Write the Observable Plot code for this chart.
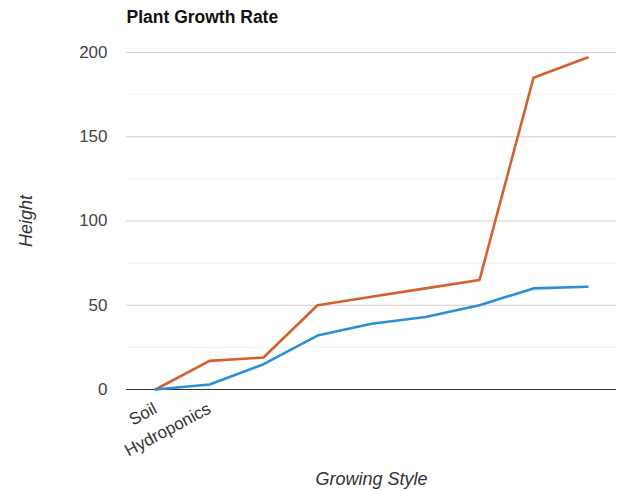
<!DOCTYPE html>
<html>
<head>
<meta charset="utf-8">
<script src="https://cdn.jsdelivr.net/npm/d3@7"></script>
<script src="https://cdn.jsdelivr.net/npm/@observablehq/plot@0.6"></script>
<style>
  html, body { margin: 0; padding: 0; background: #fff; }
  #chart svg { display: block; }
</style>
</head>
<body>
<div id="chart"></div>
<script>
// Growth stages along the x axis and the labels shown under them
const stage = [1, 2, 3, 4, 5, 6, 7, 8, 9];
const stageLabels = ["Soil", "Hydroponics", "", "", "", "", "", "", ""];

// Plant heights for the two series
const growthA = [0, 17, 19, 50, 55, 60, 65, 185, 197];
const growthB = [0, 3, 15, 32, 39, 43, 50, 60, 61];

const yTicks = [0, 50, 100, 150, 200];
const yMinor = [25, 75, 125, 175];

const rows = stage.map((s, i) => ({stage: s, a: growthA[i], b: growthB[i]}));

const chart = Plot.plot({
  width: 624,
  height: 491,
  marginTop: 52,
  marginBottom: 102,
  marginLeft: 126,
  marginRight: 8,
  style: {fontFamily: "'Liberation Sans', Arial, sans-serif", background: "#fff"},
  x: {type: "point", domain: stage, padding: 0.5},
  y: {domain: [0, 200]},
  marks: [
    Plot.gridY(yMinor, {stroke: "#f0f0f0", strokeOpacity: 1}),
    Plot.gridY(yTicks.filter(d => d > 0), {stroke: "#cfcfcf", strokeOpacity: 1}),
    Plot.axisY(yTicks, {tickSize: 0, tickPadding: 19, fontSize: 17, fill: "#444", label: null}),
    Plot.axisX({
      tickSize: 0, tickPadding: 18, tickRotate: -28, fontSize: 17, fill: "#333",
      tickFormat: (d, i) => stageLabels[i], label: null
    }),
    Plot.ruleY([0], {stroke: "#333", strokeWidth: 1.2}),
    Plot.line(rows, {x: "stage", y: "a", stroke: "#d4602e", strokeWidth: 2.6}),
    Plot.line(rows, {x: "stage", y: "b", stroke: "#2b8fd8", strokeWidth: 2.6}),
    Plot.text(["Plant Growth Rate"], {
      frameAnchor: "top-left", dy: -30, textAnchor: "start", lineAnchor: "bottom",
      fontSize: 17.5, fontWeight: "bold", fill: "#111"
    }),
    Plot.text(["Height"], {
      frameAnchor: "left", dx: -100, rotate: -90, textAnchor: "middle", lineAnchor: "middle",
      fontSize: 18, fontStyle: "italic", fill: "#333"
    }),
    Plot.text(["Growing Style"], {
      frameAnchor: "bottom", dy: 90, lineAnchor: "middle",
      fontSize: 18, fontStyle: "italic", fill: "#333"
    })
  ]
});

document.getElementById("chart").append(chart);
</script>
</body>
</html>
